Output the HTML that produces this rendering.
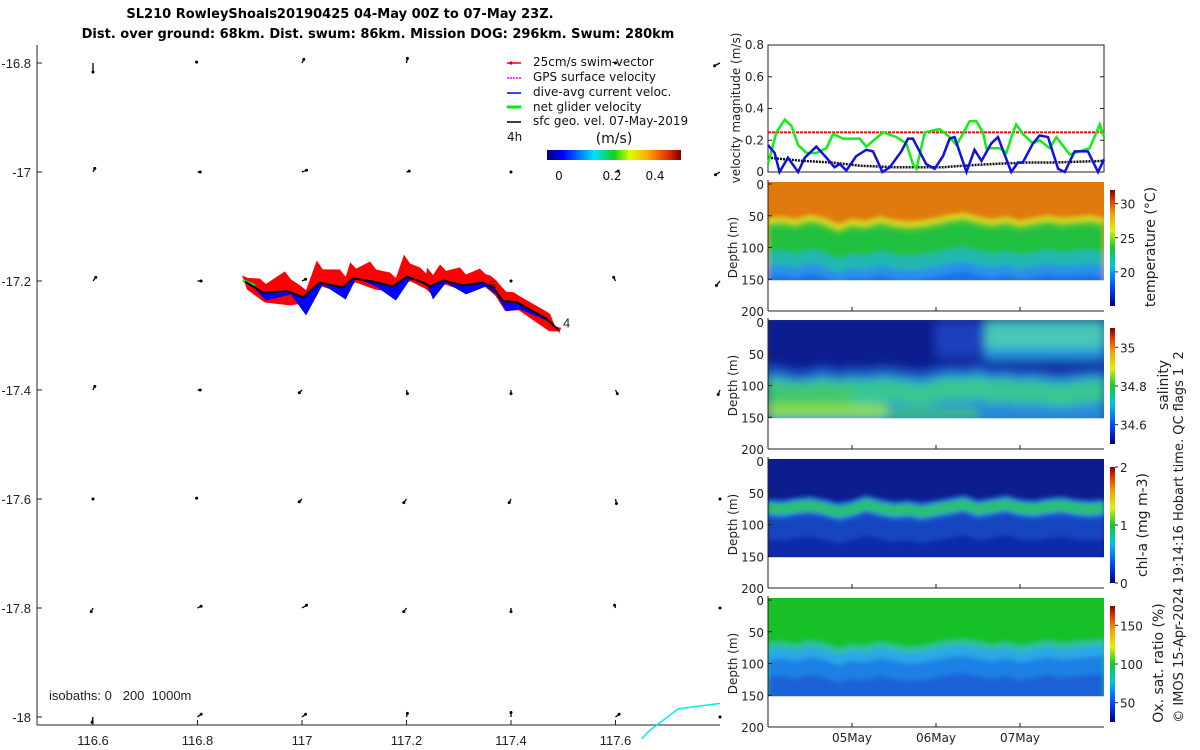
<!DOCTYPE html>
<html><head><meta charset="utf-8">
<style>
html,body{margin:0;padding:0;background:#fff;}
svg{display:block;font-family:"DejaVu Sans","Liberation Sans",sans-serif;}
.t{font-size:12px;fill:#222;}
.m{font-family:"Liberation Sans",sans-serif;font-size:13px;fill:#222;}
.ttl{font-family:"DejaVu Sans","Liberation Sans",sans-serif;font-size:13px;font-weight:bold;fill:#000;}
</style></head>
<body>
<svg id="fig" width="1200" height="750" viewBox="0 0 1200 750">
<defs>
<linearGradient id="jetH" x1="0" x2="1" y1="0" y2="0">
<stop offset="0" stop-color="#00007f"/><stop offset="0.12" stop-color="#0000ff"/><stop offset="0.35" stop-color="#00e0ff"/><stop offset="0.5" stop-color="#10d020"/><stop offset="0.62" stop-color="#ddff00"/><stop offset="0.75" stop-color="#ffaa00"/><stop offset="0.9" stop-color="#e03000"/><stop offset="1" stop-color="#800000"/>
</linearGradient>
<linearGradient id="jetV" x1="0" x2="0" y1="1" y2="0">
<stop offset="0" stop-color="#00007f"/><stop offset="0.15" stop-color="#0040ff"/><stop offset="0.35" stop-color="#00c8e0"/><stop offset="0.5" stop-color="#10c830"/><stop offset="0.65" stop-color="#e0f000"/><stop offset="0.8" stop-color="#f0a000"/><stop offset="0.92" stop-color="#e03000"/><stop offset="1" stop-color="#800000"/>
</linearGradient>
<filter id="blur" x="-5%" y="-20%" width="110%" height="140%"><feGaussianBlur stdDeviation="2.5"/></filter>
<filter id="blur2" x="-5%" y="-20%" width="110%" height="140%"><feGaussianBlur stdDeviation="5"/></filter>
</defs>

<text class="ttl" x="340" y="18" text-anchor="middle">SL210 RowleyShoals20190425 04-May 00Z to 07-May 23Z.</text>
<text class="ttl" x="378" y="38" text-anchor="middle">Dist. over ground: 68km. Dist. swum: 86km. Mission DOG: 296km. Swum: 280km</text>

<g id="map"></g>
<g id="vel"></g>
<g id="sec"></g>

<text class="m" x="49" y="700" style="white-space:pre">isobaths: 0   200  1000m</text>

<g font-family="DejaVu Sans, Liberation Sans, sans-serif" font-size="12" fill="#111">
<line x1="507" y1="63" x2="521" y2="63" stroke="#f00" stroke-width="1.5"/>
<text x="533" y="66">25cm/s swim-vector</text>
<line x1="507" y1="78" x2="521" y2="78" stroke="#f0f" stroke-width="1.5" stroke-dasharray="2,1"/>
<text x="533" y="81">GPS surface velocity</text>
<line x1="507" y1="93" x2="521" y2="93" stroke="#00f" stroke-width="1.5"/>
<text x="533" y="96">dive-avg current veloc.</text>
<line x1="507" y1="107" x2="521" y2="107" stroke="#0e0" stroke-width="3"/>
<text x="533" y="111">net glider velocity</text>
<line x1="507" y1="122" x2="521" y2="122" stroke="#000" stroke-width="1.5"/>
<text x="533" y="125">sfc geo. vel. 07-May-2019</text>
<text x="507" y="141">4h</text>
<text x="614" y="143" text-anchor="middle" font-size="14">(m/s)</text>
<rect x="547" y="150" width="134" height="10" fill="url(#jetH)"/>
<text x="559" y="180" text-anchor="middle">0</text>
<text x="612" y="180" text-anchor="middle">0.2</text>
<text x="655" y="180" text-anchor="middle">0.4</text>
</g>

<g font-family="DejaVu Sans, Liberation Sans, sans-serif" font-size="14" fill="#222">
<text transform="translate(1155,247) rotate(-90)" text-anchor="middle">temperature (°C)</text>
<text transform="translate(1168,385) rotate(-90)" text-anchor="middle">salinity</text>
<text transform="translate(1147,525) rotate(-90)" text-anchor="middle">chl-a (mg m-3)</text>
<text transform="translate(1163,663) rotate(-90)" text-anchor="middle">Ox. sat. ratio (%)</text>
<text transform="translate(1183,537) rotate(-90)" text-anchor="middle" font-size="13" style="white-space:pre">© IMOS 15-Apr-2024 19:14:16 Hobart time. QC flags 1  2</text>
</g>
</svg>

<script>
// ---------- data ----------
const lonTicks = [116.6, 116.8, 117, 117.2, 117.4, 117.6];
const latTicks = [-16.8, -17, -17.2, -17.4, -17.6, -17.8, -18];
const gridLons = [116.6, 116.8, 117, 117.2, 117.4, 117.6, 117.8];
const gridLats = [-16.8, -17, -17.2, -17.4, -17.6, -17.8, -18];
const sfcU = [
 [0, -0.1, 0.2, 0.1, 0, 0, -0.6],
 [0.2, 0.3, 0.5, 0.3, 0, 0.3, -0.5],
 [0.3, 0.4, 0.4, 0.3, 0, -0.2, -0.4],
 [0.2, 0.3, -0.3, 0.1, 0, 0.2, -0.2],
 [0, -0.1, -0.3, -0.3, -0.2, 0.1, 0],
 [-0.2, 0.4, 0.5, -0.3, 0, -0.1, 0],
 [-0.1, 0.4, 0.4, 0.1, 0, 0.4, 0]];
const sfcV = [
 [-1.0, 0.1, 0.4, 0.5, 0, 0, -0.3],
 [0.4, 0, 0.2, 0.1, 0, 0.1, -0.3],
 [0.4, 0, 0.2, 0.1, 0, 0.4, -0.5],
 [0.4, 0, -0.3, -0.4, -0.4, -0.4, -0.5],
 [0, 0.1, -0.3, -0.4, -0.4, -0.5, 0],
 [-0.4, 0.2, 0.3, -0.4, -0.4, 0.3, 0],
 [-0.6, 0.3, 0.3, 0.4, 0.5, 0.3, 0]];
const trackLon = [116.891,116.925,116.973,117.002,117.034,117.078,117.098,117.136,117.174,117.201,117.232,117.245,117.270,117.308,117.346,117.366,117.385,117.411,117.469,117.490];
const trackLat = [-17.201,-17.221,-17.219,-17.230,-17.203,-17.212,-17.195,-17.201,-17.210,-17.192,-17.203,-17.210,-17.199,-17.208,-17.203,-17.212,-17.237,-17.239,-17.270,-17.289];
const swimLen = [6,14,20,12,22,18,16,20,14,22,15,19,16,18,14,12,16,10,9,3];
const swimBelow = [8,10,14,6,4,6,4,8,6,4,6,8,4,6,4,8,10,8,12,2];
const dacLen = [0,8,3,18,2,12,0,5,14,3,0,13,2,9,4,7,10,7,3,5];
const isoLon = [117.65, 117.665, 117.72, 117.8];
const isoLat = [-18.04, -18.025, -17.985, -17.975];

const netH = [0,2.4,4.8,6.7,8.6,11,13.8,16.7,18.6,21.4,26.2,28.1,32.9,36.7,39.5,41.4,42.4,44.8,49,51.9,53.8,55.7,57.6,59.5,61.4,62.4,66.2,68.1,70,70.9,72.8,75.7,77.6,80.5,82.4,86.2,89,91.9,94.8,96];
const netV = [0.05,0.25,0.33,0.29,0.17,0.12,0.12,0.15,0.24,0.21,0.21,0.16,0.25,0.22,0.18,0.05,0.02,0.25,0.27,0.22,0.17,0.24,0.32,0.32,0.25,0.15,0.15,0.12,0.25,0.30,0.24,0.18,0.20,0.15,0.22,0.11,0.13,0.15,0.30,0.22];
const dacH = [0,1.9,3.3,5.7,8.6,10.5,13.8,16.7,19,20.5,22.4,25.2,28.1,30,32.7,34.8,38.1,40,41.4,45.2,47.6,50,51.9,53.3,56.7,59,61,63.8,65.7,69.5,71.4,72.8,75.7,77.6,80,82.9,84.8,87.6,91.4,94.3,96];
const dacV = [0.17,0.12,0.0,0.09,0.0,0.09,0.16,0.09,0.03,0.05,0.01,0.10,0.14,0.13,0.0,0.03,0.13,0.21,0.21,0.05,0.02,0.10,0.21,0.22,0.0,0.14,0.07,0.18,0.22,0.0,0.06,0.06,0.18,0.23,0.22,0.02,0.0,0.13,0.13,0.0,0.08];
const sfcH = [0,10,18,26,36,50,56,64,74,82,96];
const sfcVel = [0.09,0.07,0.06,0.04,0.03,0.03,0.04,0.05,0.06,0.06,0.07];
const swimSpeed = 0.25;
const velTicks = [0, 0.2, 0.4, 0.6, 0.8];
const dayLabels = ['05May','06May','07May'];
const dayHours = [24, 48, 72];
const depthTicks = [0, 50, 100, 150, 200];
const thermoD = [60,58,62,55,60,70,62,65,58,63,66,64,60,55,52,58,62,58,64,60,56,60,58,56,60];
const haloD = [88,92,98,95,90,96,92,94,90,92,95,98,92,88,90,86,92,90,94,92,96,98,94,92,90];
const chlD = [68,70,66,64,68,74,70,62,68,72,70,74,70,66,62,70,66,62,68,70,66,64,68,70,68];
const oxyD = [72,70,74,68,72,80,74,76,70,74,78,76,72,68,66,70,74,70,76,72,68,72,70,68,66];
const tempTicks = [20,25,30], tempRange=[15,32];
const salTicks = [34.6,34.8,35], salRange=[34.5,35.1];
const chlTicks = [0,1,2], chlRange=[0,2];
const oxyTicks = [50,100,150], oxyRange=[25,175];

// ---------- helpers ----------
const NS='http://www.w3.org/2000/svg';
function mk(tag, attrs, parent){const e=document.createElementNS(NS,tag);for(const k in attrs)e.setAttribute(k,attrs[k]);parent.appendChild(e);return e;}
const mapX = lon => 93 + (lon-116.6)*522.5;
const mapY = lat => 63 + (-16.8-lat)*545;
const velX = h => 768 + h*3.5;
const velY = v => 172 - v*158.75;
const dY = (top,d) => top + d*0.635;

// ---------- map ----------
const map=document.getElementById('map');
let e;
e=mk('line',{x1:37,y1:45,x2:37,y2:725,stroke:'#222','stroke-width':1},map);


e=mk('line',{x1:37,y1:725,x2:720,y2:725,stroke:'#222','stroke-width':1},map);


lonTicks.forEach(l=>{
  mk('line',{x1:mapX(l),y1:725,x2:mapX(l),y2:720,stroke:'#222'},map);
  e=mk('text',{x:mapX(l),y:745,'text-anchor':'middle',class:'m'},map);e.textContent=String(l);
  
  
});
latTicks.forEach(l=>{
  mk('line',{x1:37,y1:mapY(l),x2:42,y2:mapY(l),stroke:'#222'},map);
  e=mk('text',{x:31,y:mapY(l)+5,'text-anchor':'end',class:'m'},map);e.textContent=String(l);
  
  
});
gridLats.forEach((la,i)=>gridLons.forEach((lo,j)=>{
  const x=mapX(lo), y=mapY(la), u=sfcU[i][j]*9, v=-sfcV[i][j]*9;
  e=mk('line',{x1:x,y1:y,x2:x+u,y2:y+v,stroke:'#000','stroke-width':1.3},map);
  
  
  e=mk('circle',{cx:x+u,cy:y+v,r:1.5,fill:'#000'},map);
  
  
}));
const tx=trackLon.map(mapX), ty=trackLat.map(mapY);
let red=[],redB=[],blue=[],blueB=[];
for(let i=0;i<tx.length;i++){
  red.push((tx[i]-3)+' '+(ty[i]-swimLen[i]));
  red.push((tx[i]+3)+' '+(ty[i]-swimLen[i]*0.6));
  redB.unshift((tx[i]+2)+' '+(ty[i]+swimBelow[i]));
  blue.push(tx[i]+' '+ty[i]);blueB.unshift((tx[i]+3)+' '+(ty[i]+dacLen[i]));}
e=mk('polygon',{points:red.concat(redB).join(','),fill:'#f00'},map);


e=mk('polygon',{points:blue.concat(blueB).join(','),fill:'#00f'},map);


e=mk('line',{x1:tx[0]-2,y1:ty[0]-1,x2:tx[0]+10,y2:ty[0]+4,stroke:'#0e0','stroke-width':3},map);


e=mk('polyline',{points:tx.map((x,i)=>x+','+ty[i]).join(' '),fill:'none',stroke:'#000','stroke-width':2},map);


e=mk('text',{x:489,y:290,class:'m'},map);e.textContent='5';


e=mk('text',{x:tx[19]+5,y:ty[19]-2,class:'m'},map);e.textContent='4';


e=mk('polyline',{points:isoLon.map((l,i)=>mapX(l)+','+mapY(isoLat[i])).join(' '),fill:'none',stroke:'#0ee','stroke-width':1.5},map);



// ---------- velocity panel ----------
const vel=document.getElementById('vel');
e=mk('rect',{x:768,y:45,width:336,height:127,fill:'none',stroke:'#222'},vel);


velTicks.forEach(t=>{
  mk('line',{x1:768,y1:velY(t),x2:772,y2:velY(t),stroke:'#222'},vel);
  mk('line',{x1:1104,y1:velY(t),x2:1100,y2:velY(t),stroke:'#222'},vel);
  e=mk('text',{x:764,y:velY(t)+4,'text-anchor':'end',class:'t'},vel);e.textContent=t===0?'0':t.toFixed(1);
  
  
});
e=mk('text',{transform:'translate(740,108) rotate(-90)','text-anchor':'middle',class:'t'},vel);e.textContent='velocity magnitude (m/s)';


e=mk('line',{x1:velX(0),y1:velY(swimSpeed),x2:velX(96),y2:velY(swimSpeed),stroke:'#f00','stroke-width':2,'stroke-dasharray':'3,1'},vel);


e=mk('polyline',{points:sfcH.map((h,i)=>velX(h)+','+velY(sfcVel[i])).join(' '),fill:'none',stroke:'#111','stroke-width':2.5,'stroke-dasharray':'2,1'},vel);


e=mk('polyline',{points:netH.map((h,i)=>velX(h)+','+velY(netV[i])).join(' '),fill:'none',stroke:'#1e1','stroke-width':2.5},vel);


e=mk('polyline',{points:dacH.map((h,i)=>velX(h)+','+velY(dacV[i])).join(' '),fill:'none',stroke:'#11d','stroke-width':2.5},vel);



// ---------- sections ----------
const sec=document.getElementById('sec');
const H4=thermoD.map((_,i)=>i*4);
function layer(g,top,arr,off1,off2,color){
  let pts=[];
  H4.forEach((h,i)=>pts.push(velX(h)+','+dY(top,Math.max(0,arr[i]+off1))));
  if(off2===null){pts.push(velX(96)+','+dY(top,160));pts.push(velX(0)+','+dY(top,160));}
  else{for(let i=H4.length-1;i>=0;i--)pts.push(velX(H4[i])+','+dY(top,Math.min(160,arr[i]+off2)));}
  return mk('polygon',{points:pts.join(' '),fill:color},g);
}
function panel(name,top,arr,base,layers,extra,ticks,range,filt){
  const g=mk('g',{},sec);
  
  
  const cid='clip-'+name;
  const cp=mk('clipPath',{id:cid},g);
  mk('rect',{x:768,y:dY(top,0)-2,width:336,height:150*0.635+3},cp);
  const cg=mk('g',{'clip-path':'url(#'+cid+')'},g);
  const bg=mk('g',{filter:'url(#'+(filt||'blur')+')'},cg);
  mk('rect',{x:760,y:top-10,width:352,height:120,fill:base},bg);
  layers.forEach(L=>{const p=layer(bg,top,arr,L[0],L[1],L[2]);
    
    });
  extra.forEach(X=>{const r=mk('rect',{x:velX(X[0]),y:dY(top,X[2]),width:(X[1]-X[0])*3.5,height:(X[3]-X[2])*0.635,fill:X[4]},bg);
    
    });
  mk('line',{x1:768,y1:top-4,x2:768,y2:dY(top,200),stroke:'#222'},g);
  mk('line',{x1:768,y1:dY(top,200),x2:1104,y2:dY(top,200),stroke:'#222'},g);
  depthTicks.forEach(d=>{
    mk('line',{x1:768,y1:dY(top,d),x2:772,y2:dY(top,d),stroke:'#222'},g);
    const t=mk('text',{x:764,y:dY(top,d)+5,'text-anchor':'end',class:'t'},g);t.textContent=d;
    
    
  });
  dayHours.forEach(h=>mk('line',{x1:velX(h),y1:dY(top,200),x2:velX(h),y2:dY(top,200)-4,stroke:'#222'},g));
  const t=mk('text',{transform:'translate(737,'+dY(top,100)+') rotate(-90)','text-anchor':'middle',class:'t'},g);t.textContent='Depth (m)';
  
  
  const cbTop=top+6, cbH=116;
  const cb=mk('rect',{x:1110,y:cbTop,width:5,height:cbH,fill:'url(#jetV)'},g);
  
  
  ticks.forEach(v=>{
    const y=cbTop+cbH*(1-(v-range[0])/(range[1]-range[0]));
    mk('line',{x1:1115,y1:y,x2:1118,y2:y,stroke:'#222'},g);
    const tt=mk('text',{x:1120,y:y+5,class:'t','font-size':'13'},g);tt.textContent=String(v);
    
    
  });
}
panel('temperature',184,thermoD,'#e07a0c',
  [[-6,null,'#d8d820'],[2,null,'#48c830'],[10,null,'#22c040'],[48,null,'#22b8b0'],[70,null,'#2a90e8'],[86,null,'#1c70e8']],
  [],tempTicks,tempRange);
panel('salinity',322,haloD,'#0c1a8e',
  [[-20,null,'#1a50c8'],[-6,null,'#2aa0e0'],[0,35,'#38c890'],[38,null,'#2a8ad8']],
  [[0,34,130,150,'#90e040'],[34,60,138,150,'#40c840'],[0,24,95,130,'#40c870'],[48,62,0,55,'#1a40c0'],[62,96,0,42,'#48c8b8'],[62,96,42,60,'#2090e0']],
  salTicks,salRange,'blur2');
panel('chl',461,chlD,'#0a1a8e',
  [[-8,null,'#1a50d0'],[-3,16,'#30c0a0'],[2,10,'#28c050'],[24,null,'#1845c0'],[55,null,'#0e2ca8']],
  [],chlTicks,chlRange);
panel('oxygen',600,oxyD,'#14c028',
  [[-4,null,'#30c0a0'],[6,null,'#2aa8e8'],[22,null,'#1f80e4'],[50,null,'#1a60d8']],
  [],oxyTicks,oxyRange);
dayLabels.forEach((d,i)=>{
  e=mk('text',{x:velX(dayHours[i]),y:742,'text-anchor':'middle',class:'t'},sec);e.textContent=d;
  
  
});
</script>
</body></html>
